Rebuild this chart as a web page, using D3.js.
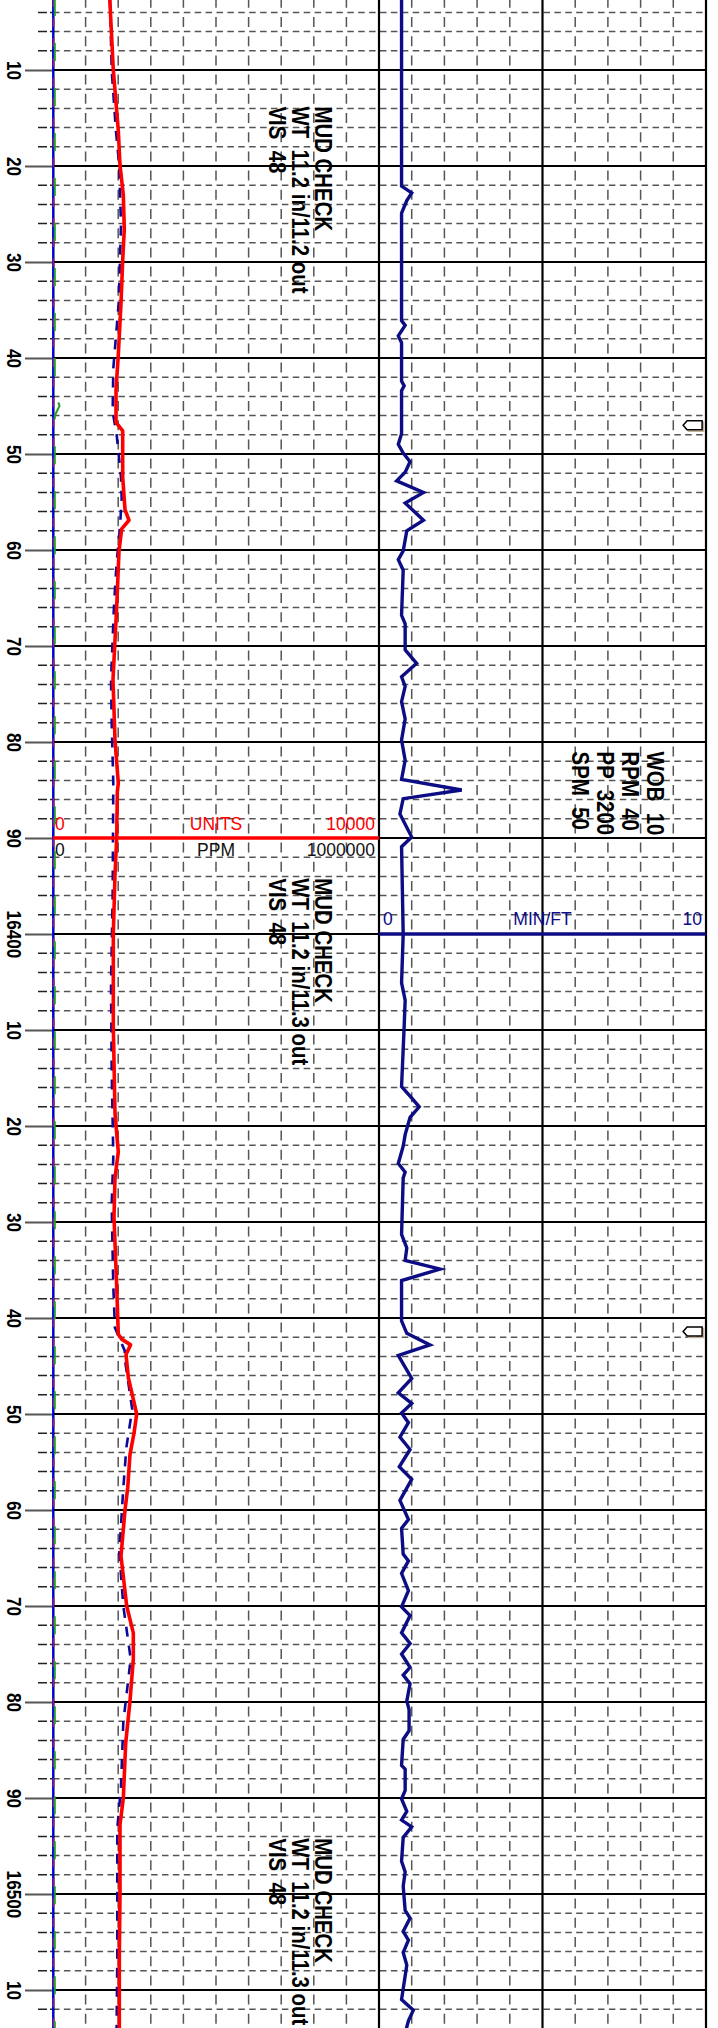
<!DOCTYPE html>
<html><head><meta charset="utf-8">
<script src="https://cdn.jsdelivr.net/npm/d3@7"></script>
<style>
html,body{margin:0;padding:0;background:#fff;}
svg{display:block;}
text{font-family:"Liberation Sans",Arial,sans-serif;}
</style>
</head><body>
<svg id="c" width="718" height="2028"></svg>
<script>
// ---------------- DATA ----------------
const depthTicks  = [16310,16320,16330,16340,16350,16360,16370,16380,16390,16400,16410,16420,16430,16440,16450,16460,16470,16480,16490,16500,16510];
const depthLabels = ["10","20","30","40","50","60","70","80","90","16400","10","20","30","40","50","60","70","80","90","16500","10"];

// Total gas (UNITS, 0-10000)
const totalGasDepth = [16302.5,16310,16316.3,16319.9,16323,16326.6,16329.8,16334.3,16339.7,16343.3,
  16346.7,16347.6,16352.4,16355.8,16356.9,16357.8,16360.1,16365.9,16373.5,16379.8,
  16384.3,16385.2,16390,16393.8,16400,16409.6,16418.7,16422.7,16425.4,16429.5,
  16436.7,16441.7,16442.2,16442.8,16443.8,16446.2,16450,16452,16454.2,16457.7,
  16460,16464.8,16470,16472.8,16475.5,16479.9,16484.3,16490,16492.8,16499.9,
  16506.5,16514.5];
const totalGasUnits = [1740,1850,2003,2055,2157,2187,2138,2086,2003,1933,
  1933,2138,2138,2209,2331,2107,2025,1954,1840,1902,
  2003,1973,1954,1902,1850,1850,1902,2003,1902,1871,
  1954,2003,2107,2380,2240,2310,2567,2485,2362,2291,
  2209,2086,2260,2464,2464,2362,2230,2157,2055,2055,
  2034,2034];

// C1 (PPM, 0-1000000) dashed
const c1Depth = [16302.5,16310,16316.3,16319.9,16326.2,16334.3,16341.1,16345.6,16347.9,16352.4,
  16354.6,16357.6,16361.4,16365.9,16373.5,16378,16384.3,16396,16405.1,16414.1,
  16423.2,16428.2,16436.7,16441,16443.4,16444.4,16449.5,16453.5,16457.7,16464.4,
  16470,16475.5,16482.1,16488.8,16493.2,16506.5,16514.5];
const c1Ppm = [174800,180000,193000,203000,208600,201500,185000,183000,195000,208600,
  210700,205500,195000,187000,178000,180000,185000,183000,178000,180000,
  185000,180000,185000,190000,220000,220900,243000,225000,215700,203400,
  215700,238300,215700,208600,197200,197200,195000];

// minor gases hugging the left edge (PPM)
const c2Depth = [16302.5,16514.5];
const c2Ppm   = [0,0];
const c3Depth = [16302.5,16514.5];
const c3Ppm   = [1500,1500];
const c4Depth = [16302.5,16343.5,16345,16346,16514.5];
const c4Ppm   = [5500,5500,20000,5500,5500];

// Rate of penetration (MIN/FT, 0-10)
const ropDepth = [16302.5,16322.1,16322.8,16323.6,16324.9,16336.1,16336.6,16337.7,16338.4,16342.4,
  16342.9,16343.4,16347.9,16349.0,16349.9,16350.8,16351.9,16352.8,16354.0,16355.1,
  16356.9,16358.0,16360.1,16361.0,16362.1,16366.8,16367.7,16370.4,16371.8,16373.2,
  16374.2,16375.8,16377.6,16379.8,16381.9,16383.9,16385.0,16385.9,16387.5,16389.9,
  16390.9,16400.0,16405.1,16406.9,16409.6,16415.9,16416.9,16418.0,16419.1,16420.9,
  16422.1,16423.9,16424.8,16425.4,16431.3,16432.7,16434.0,16434.9,16436.1,16440.3,
  16441.6,16442.8,16443.9,16446.3,16447.8,16448.9,16449.9,16450.9,16452.4,16453.7,
  16455.5,16456.8,16459.0,16461.0,16461.9,16464.6,16465.3,16466.6,16468.4,16470.1,
  16471.0,16472.8,16473.9,16475.0,16476.4,16477.2,16478.1,16479.9,16480.8,16483.0,
  16483.9,16486.6,16487.0,16489.2,16490.1,16491.4,16492.3,16493.0,16494.1,16496.6,
  16497.7,16499.2,16501.7,16502.5,16503.9,16504.8,16506.1,16507.4,16511.0,16512.1,
  16513.2,16514.5];
const ropMinFt = [0.69,0.69,1.00,0.85,0.69,0.69,0.80,0.59,0.69,0.69,
  0.77,0.69,0.69,0.59,0.74,0.95,0.80,0.54,1.36,0.80,
  1.36,0.85,0.74,0.59,0.74,0.69,0.80,0.80,1.15,0.69,
  0.80,0.69,0.80,0.69,0.80,0.69,2.53,0.74,0.64,1.00,
  0.69,0.74,0.69,0.80,0.77,0.69,0.95,1.23,0.95,0.80,
  0.74,0.59,0.80,0.74,0.69,0.85,0.80,1.87,0.69,0.69,
  0.85,1.56,0.59,1.00,0.59,1.00,0.69,0.90,0.64,0.95,
  0.62,1.00,0.64,0.90,0.69,0.74,0.90,0.69,0.90,0.69,
  0.95,0.69,0.95,0.69,0.95,0.74,0.95,0.85,0.92,0.92,
  0.74,0.69,0.80,0.80,0.69,0.85,0.69,1.00,0.74,0.69,
  0.80,0.74,0.80,0.95,0.74,0.90,0.74,0.85,0.69,1.05,
  0.90,0.80];

// annotations
const mudCheckDepths = [16313.8,16394.2,16494.2];
const mudCheckLines = [
  ["MUD CHECK","WT  11.2 in/11.2 out","VIS  48"],
  ["MUD CHECK","WT  11.2 in/11.3 out","VIS  48"],
  ["MUD CHECK","WT  11.2 in/11.3 out","VIS  48"]
];
const drillParamDepth = 16381.0;
const drillParamLines = ["WOB  10","RPM  40","PP  3200","SPM  50"];
const bitMarkDepths = [16347.0,16441.4];

const gasHeader = ["0","UNITS","10000"];
const ppmHeader = ["0","PPM","1000000"];
const ropHeader = ["0","MIN/FT","10"];
const gasHeaderDepth = 16390;
const ropHeaderDepth = 16400;

// ---------------- SCALES ----------------
const W = 718, H = 2028;
const topDepth = 16302.708, pxPerFt = 9.6;
const y = d3.scaleLinear().domain([topDepth, topDepth + H / pxPerFt]).range([0, H]);
const gasX = d3.scaleLinear().domain([0, 10000]).range([53, 379]);
const ppmX = d3.scaleLinear().domain([0, 1000000]).range([53, 379]);
const ropX = d3.scaleLinear().domain([0, 10]).range([379, 706]);

const svg = d3.select("#c");
const FONT = '"Liberation Sans",Arial,sans-serif';

// ---------------- GRID ----------------
const grid = svg.append("g");
const minorDepths = d3.range(16304, 16514, 2).filter(d => d % 10 !== 0);
const majorDepths = depthTicks;

const vDashX = gasX.ticks(10).filter(v => v > 0 && v < 10000).map(gasX)
  .concat(ropX.ticks(10).filter(v => v > 0 && v < 10 && v !== 5).map(ropX));
grid.selectAll("line.vd").data(vDashX).join("line")
  .attr("x1", d => d).attr("x2", d => d)
  .attr("y1", y(16302) + 4.6).attr("y2", H)
  .attr("stroke", "#555").attr("stroke-width", 1.5)
  .attr("stroke-dasharray", "10,9.2");

grid.selectAll("line.hd").data(minorDepths).join("line")
  .attr("x1", 53).attr("x2", ropX(10))
  .attr("y1", d => y(d)).attr("y2", d => y(d))
  .attr("stroke", "#555").attr("stroke-width", 1.5)
  .attr("stroke-dasharray", "6.5,4.4");
grid.selectAll("line.mt").data(minorDepths).join("line")
  .attr("x1", 38).attr("x2", 53)
  .attr("y1", d => y(d)).attr("y2", d => y(d))
  .attr("stroke", "#222").attr("stroke-width", 1.5)
  .attr("stroke-dasharray", "9,3");

grid.selectAll("line.hm").data(majorDepths).join("line")
  .attr("x1", 53).attr("x2", ropX(10))
  .attr("y1", d => y(d)).attr("y2", d => y(d))
  .attr("stroke", "#000").attr("stroke-width", 2.2);

const vSolidX = [gasX(10000), ropX(5), ropX(10)];
grid.selectAll("line.vs").data(vSolidX).join("line")
  .attr("x1", d => d).attr("x2", d => d)
  .attr("y1", 0).attr("y2", H)
  .attr("stroke", "#000").attr("stroke-width", 2.2);

// depth axis
const axis = d3.axisLeft(y).tickValues(depthTicks)
  .tickFormat((d, i) => depthLabels[i]).tickSize(28).tickSizeOuter(0);
const ag = svg.append("g").attr("transform", "translate(53,0)").call(axis);
ag.select(".domain").attr("stroke", "#000").attr("stroke-width", 2);
ag.selectAll(".tick line").attr("stroke", "#555").attr("stroke-width", 2);
ag.selectAll(".tick text")
  .attr("x", 0).attr("dy", 0).attr("text-anchor", "middle")
  .attr("transform", "translate(-46,0) rotate(90) scale(0.82,1)")
  .attr("font-family", FONT).attr("font-size", 21).attr("font-weight", "bold")
  .attr("fill", "#000");

// ---------------- CURVES ----------------
const zip = (ds, vs) => ds.map((d, i) => ({ d, v: vs[i] }));
const curves = svg.append("g").attr("fill", "none");

curves.append("path").datum(zip(c2Depth, c2Ppm))
  .attr("d", d3.line().x(p => ppmX(p.v)).y(p => y(p.d)))
  .attr("stroke", "#0000ff").attr("stroke-width", 1.8);
curves.append("path").datum(zip(c3Depth, c3Ppm))
  .attr("d", d3.line().x(p => ppmX(p.v)).y(p => y(p.d)))
  .attr("stroke", "#8b1a8b").attr("stroke-width", 1.8).attr("stroke-dasharray", "9,11");
curves.append("path").datum(zip(c4Depth, c4Ppm))
  .attr("d", d3.line().x(p => ppmX(p.v)).y(p => y(p.d)))
  .attr("stroke", "#2a9a2a").attr("stroke-width", 2).attr("stroke-dasharray", "18,27");

curves.append("path").datum(zip(c1Depth, c1Ppm))
  .attr("d", d3.line().x(p => ppmX(p.v)).y(p => y(p.d)))
  .attr("stroke", "#0a0a9a").attr("stroke-width", 2.6).attr("stroke-dasharray", "10,9");

curves.append("path").datum(zip(totalGasDepth, totalGasUnits))
  .attr("d", d3.line().x(p => gasX(p.v)).y(p => y(p.d)))
  .attr("stroke", "#ff0000").attr("stroke-width", 3.6).attr("stroke-linejoin", "round");

curves.append("path").datum(zip(ropDepth, ropMinFt))
  .attr("d", d3.line().x(p => ropX(p.v)).y(p => y(p.d)))
  .attr("stroke", "#0c0c84").attr("stroke-width", 3.4).attr("stroke-linejoin", "miter");

// ---------------- HEADERS ----------------
const hdr = svg.append("g").attr("font-family", FONT).attr("font-size", 17.5);
const gy = y(gasHeaderDepth);
hdr.append("line").attr("x1", gasX(0)).attr("x2", gasX(10000)).attr("y1", gy).attr("y2", gy)
  .attr("stroke", "#ff0000").attr("stroke-width", 3.5);
const anchors = ["start", "middle", "end"];
const gasHX = [gasX(0) + 2, gasX(5000), gasX(10000) - 4];
hdr.selectAll("text.g").data(gasHeader).join("text")
  .attr("x", (d, i) => gasHX[i]).attr("y", gy - 8)
  .attr("text-anchor", (d, i) => anchors[i]).attr("fill", "#ff0000").text(d => d);
hdr.selectAll("text.p").data(ppmHeader).join("text")
  .attr("x", (d, i) => gasHX[i]).attr("y", gy + 18)
  .attr("text-anchor", (d, i) => anchors[i]).attr("fill", "#111").text(d => d);

const ry = y(ropHeaderDepth);
hdr.append("line").attr("x1", ropX(0)).attr("x2", ropX(10)).attr("y1", ry).attr("y2", ry)
  .attr("stroke", "#0c0c84").attr("stroke-width", 3.5);
const ropHX = [ropX(0) + 4, ropX(5), ropX(10) - 4];
hdr.selectAll("text.r").data(ropHeader).join("text")
  .attr("x", (d, i) => ropHX[i]).attr("y", ry - 9)
  .attr("text-anchor", (d, i) => anchors[i]).attr("fill", "#0c0c84").text(d => d);

// ---------------- ANNOTATIONS ----------------
const ann = svg.append("g").attr("font-family", FONT).attr("font-size", 24)
  .attr("font-weight", "bold").attr("fill", "#000");
mudCheckDepths.forEach((dep, k) => {
  mudCheckLines[k].forEach((txt, j) => {
    ann.append("text")
      .attr("transform", `translate(${gasX(8040) - j * 23},${y(dep)}) rotate(90) scale(0.85,1)`)
      .attr("xml:space", "preserve").style("white-space", "pre")
      .text(txt);
  });
});
drillParamLines.forEach((txt, j) => {
  ann.append("text")
    .attr("transform", `translate(${ropX(8.2) - j * 25},${y(drillParamDepth)}) rotate(90) scale(0.85,1)`)
    .attr("xml:space", "preserve").style("white-space", "pre")
    .text(txt);
});

// bit / connection markers
const mk = svg.append("g");
bitMarkDepths.forEach(dep => {
  const xl = ropX(9.3), yc = y(dep);
  const pts = [[xl, yc], [xl + 4, yc - 4.5], [xl + 19, yc - 4.5], [xl + 19, yc + 4.5], [xl + 4, yc + 4.5]];
  mk.append("polygon").attr("points", pts.map(p => [p[0] + 1.5, p[1] + 1.5].join(",")).join(" "))
    .attr("fill", "none").attr("stroke", "#c4b49a").attr("stroke-width", 1.5);
  mk.append("polygon").attr("points", pts.map(p => p.join(",")).join(" "))
    .attr("fill", "#fff").attr("stroke", "#000").attr("stroke-width", 1.5);
});
</script>
</body></html>
